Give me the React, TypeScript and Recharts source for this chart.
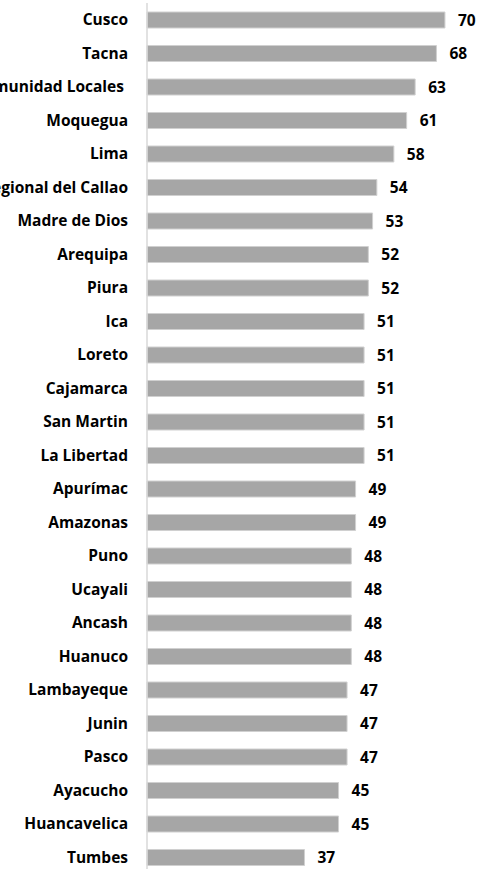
import { BarChart, Bar, XAxis, YAxis, LabelList } from 'recharts';

// Regiones y puntajes, de arriba hacia abajo
const regiones = [
  'Cusco',
  'Tacna',
  'Mancomunidad Locales ',
  'Moquegua',
  'Lima',
  'Gobierno Regional del Callao',
  'Madre de Dios',
  'Arequipa',
  'Piura',
  'Ica',
  'Loreto',
  'Cajamarca',
  'San Martin',
  'La Libertad',
  'Apurímac',
  'Amazonas',
  'Puno',
  'Ucayali',
  'Ancash',
  'Huanuco',
  'Lambayeque',
  'Junin',
  'Pasco',
  'Ayacucho',
  'Huancavelica',
  'Tumbes',
];

const puntajes = [
  70, 68, 63, 61, 58, 54, 53, 52, 52, 51, 51, 51, 51, 51, 49, 49, 48, 48, 48, 48, 47, 47, 47, 45, 45,
  37,
];

const data = regiones.map((region, i) => ({ region, puntaje: puntajes[i] }));

const FONT = '"Open Sans", Lato, sans-serif';

// etiqueta de región en una sola línea (sin cortes), alineada a la derecha
function RegionTick({ x, y, payload }: any) {
  return (
    <text
      x={x}
      y={y}
      dy="0.35em"
      textAnchor="end"
      fill="#000"
      fontSize={15.5}
      fontWeight={700}
      fontFamily={FONT}
      style={{ whiteSpace: 'pre' }}
    >
      {payload.value}
    </text>
  );
}

export default function App() {
  return (
    <div style={{ position: 'absolute', top: 0, left: 0, width: 479, height: 869, overflow: 'hidden', background: '#fff' }}>
      <BarChart
        width={479}
        height={880}
        data={data}
        layout="vertical"
        margin={{ top: 3, right: 0, bottom: 6, left: 0 }}
      >
        <XAxis type="number" domain={[0, 78]} hide />
        <YAxis
          type="category"
          dataKey="region"
          width={147}
          tickLine={false}
          tickSize={6}
          tickMargin={13}
          axisLine={{ stroke: '#d9d9d9', strokeWidth: 1.5 }}
          interval={0}
          tick={<RegionTick />}
        />
        <Bar
          dataKey="puntaje"
          fill="#a6a6a6"
          stroke="#d0d0d0"
          strokeWidth={1}
          barSize={16}
          isAnimationActive={false}
        >
          <LabelList
            dataKey="puntaje"
            position="right"
            offset={13}
            fill="#000"
            fontSize={15.5}
            fontWeight={700}
            fontFamily={FONT}
          />
        </Bar>
      </BarChart>
    </div>
  );
}
